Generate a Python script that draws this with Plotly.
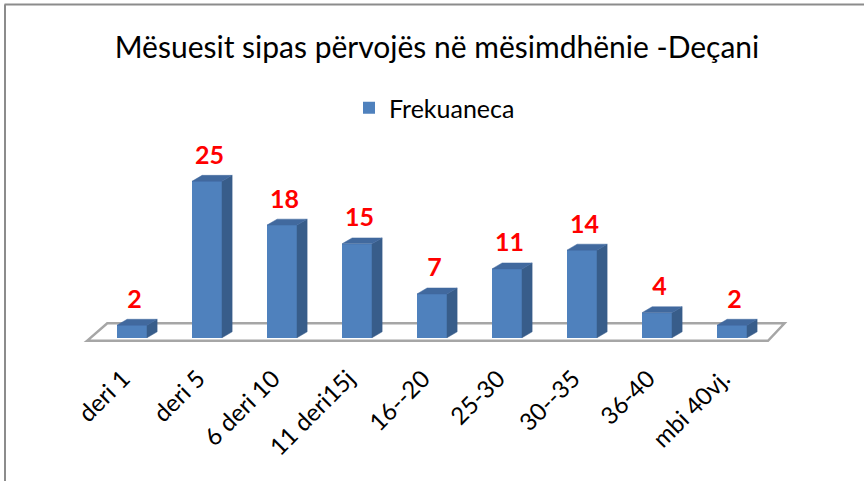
import plotly.graph_objects as go

# ---- data ----
categories = ["deri 1", "deri 5", "6 deri 10", "11 deri15j", "16--20",
              "25-30", "30--35", "36-40", "mbi 40vj."]
values = [2, 25, 18, 15, 7, 11, 14, 4, 2]
series_name = "Frekuaneca"
title_text = "Mësuesit sipas përvojës në mësimdhënie -Deçani"

# ---- styling / layout constants ----
W, H = 864, 481
L, R, T, B = 57, 42, 150, 137
XR = [-1, 9.2]
YR = [-1, 30]
FRONT = "#4F81BD"
SIDE = "#385D8A"
TOP = "#41699E"
FONT = "Lato"
hw = 0.2          # half bar width (category units)
dx = 0.135        # depth offset in x (category units)
dy = 0.95         # depth offset in y (value units)
label_shift = -0.12  # tick label anchor shift (category units)

xs = list(range(len(categories)))

fig = go.Figure()

# front faces
fig.add_trace(go.Bar(x=xs, y=values, width=2 * hw, name=series_name,
                     marker=dict(color=FRONT, line=dict(width=0)),
                     showlegend=True, hoverinfo="skip"))

# side faces
sx, sy = [], []
for i, v in zip(xs, values):
    sx += [i + hw, i + hw + dx, i + hw + dx, i + hw, i + hw, None]
    sy += [0, dy, v + dy, v, 0, None]
fig.add_trace(go.Scatter(x=sx, y=sy, mode="lines", fill="toself",
                         fillcolor=SIDE, line=dict(width=0.5, color=SIDE),
                         showlegend=False, hoverinfo="skip"))

# top faces
tx, ty = [], []
for i, v in zip(xs, values):
    tx += [i - hw, i + hw, i + hw + dx, i - hw + dx, i - hw, None]
    ty += [v, v, v + dy, v + dy, v, None]
fig.add_trace(go.Scatter(x=tx, y=ty, mode="lines", fill="toself",
                         fillcolor=TOP, line=dict(width=0.5, color=TOP),
                         showlegend=False, hoverinfo="skip"))

# data labels
fig.add_trace(go.Scatter(x=[i + dx / 4 for i in xs], y=[v + dy + 0.85 for v in values],
                         mode="text", text=[str(v) for v in values],
                         textposition="top center",
                         textfont=dict(family=FONT, size=25, color="#FF0000",
                                       weight="bold"),
                         cliponaxis=False, showlegend=False, hoverinfo="skip"))

# floor (parallelogram)
n = len(categories)
floor_path = (f"M {-0.6},{-0.5} L {-0.33},{2.3} L {n - 0.3},{2.3} "
              f"L {n - 0.52},{-0.5} Z")
fig.add_shape(type="path", path=floor_path, xref="x", yref="y",
              line=dict(color="#A6A6A6", width=2.5), layer="below")

# outer border (top and left)
pw = W - L - R
ph = H - T - B
def px2paper_x(px):
    return (px - L) / pw
def px2paper_y(py):
    return 1 - (py - T) / ph
fig.add_shape(type="line", xref="paper", yref="paper",
              x0=px2paper_x(4.5), x1=px2paper_x(W + 5),
              y0=px2paper_y(4.5), y1=px2paper_y(4.5),
              line=dict(color="#8C8C8C", width=2))
fig.add_shape(type="line", xref="paper", yref="paper",
              x0=px2paper_x(5), x1=px2paper_x(5),
              y0=px2paper_y(4.5), y1=px2paper_y(H + 5),
              line=dict(color="#8C8C8C", width=2))

fig.update_layout(
    width=W, height=H,
    margin=dict(l=L, r=R, t=T, b=B, autoexpand=False),
    paper_bgcolor="white", plot_bgcolor="white",
    font=dict(family=FONT, color="black"),
    title=dict(text=title_text, x=437 / W, xanchor="center",
               y=1 - 47 / H, yanchor="middle", xref="container", yref="container",
               font=dict(family=FONT, size=30, color="black")),
    legend=dict(orientation="h", x=px2paper_x(349), xanchor="left",
                y=px2paper_y(108), yanchor="middle",
                font=dict(family=FONT, size=25, color="black"),
                bgcolor="rgba(0,0,0,0)"),
    xaxis=dict(range=XR, tickmode="array",
               tickvals=[i + label_shift for i in xs], ticktext=categories,
               tickangle=-45, showgrid=False, zeroline=False, showline=False,
               ticks="", ticklabelstandoff=15,
               tickfont=dict(family=FONT, size=24, color="black")),
    yaxis=dict(range=YR, visible=False, showgrid=False, zeroline=False),
    bargap=0,
)

fig.write_html("out.html", config={"displayModeBar": False},
               post_script="document.body.style.margin='0px';")
